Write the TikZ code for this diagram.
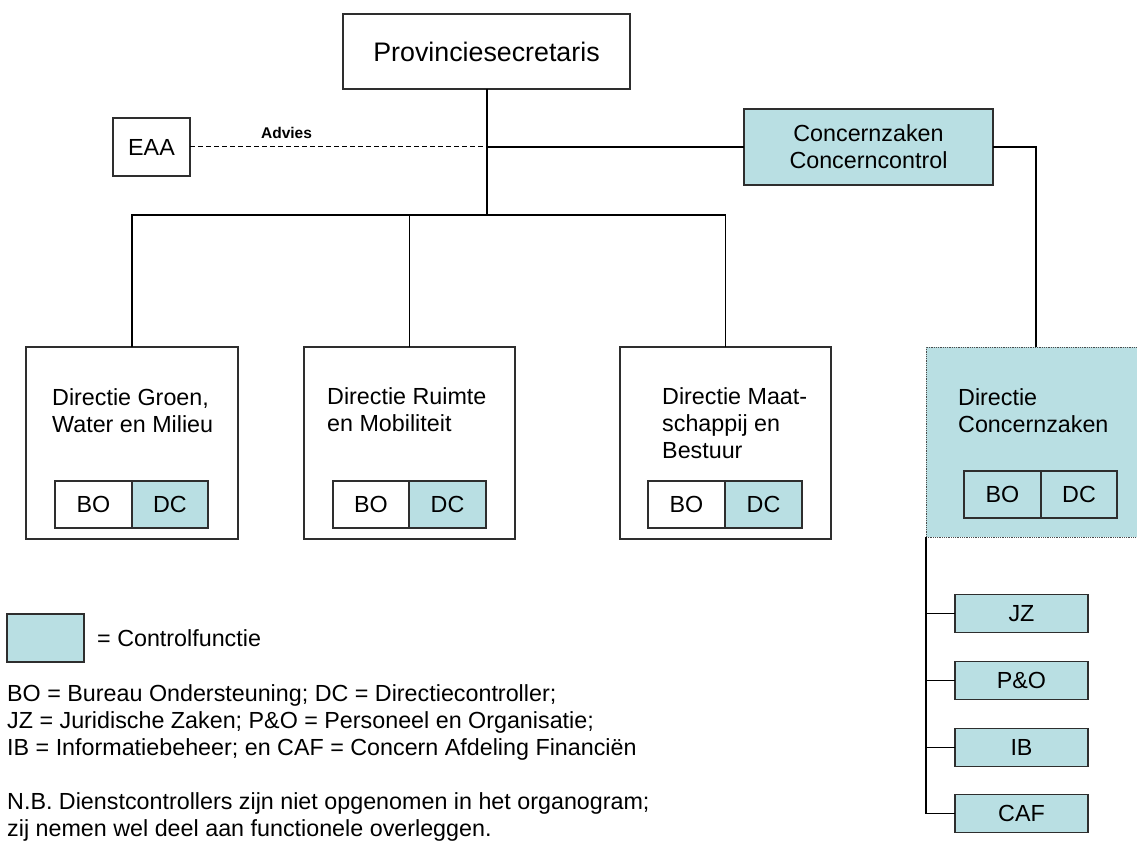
\documentclass[tikz,border=0pt]{standalone}
\usepackage{fontspec}
\setmainfont{Liberation Sans}
\definecolor{ctrl}{HTML}{B9DFE3}
\definecolor{edge}{HTML}{2E2E2E}

\begin{document}
\begin{tikzpicture}[x=1pt,y=-1pt,
  txt/.style={font=\fontsize{23.3}{27}\selectfont},
  box/.style={draw=edge,line width=1.2pt,rectangle,inner sep=0pt,outer sep=0pt,txt,align=center},
  ctl/.style={box,fill=ctrl},
  dotbox/.style={rectangle,fill=ctrl,draw=black!70,line width=1pt,dash pattern=on 0.9pt off 0.9pt,inner sep=0pt,outer sep=0pt},
  conn/.style={line width=1.2pt,black},
  trunk/.style={line width=2pt,black},
  advice/.style={line width=1pt,black,dash pattern=on 4.5pt off 3.5pt},
  body/.style={txt,inner sep=0pt,anchor=north west,align=left},
]
\useasboundingbox (0,0) rectangle (1137,853);
\clip (0,0) rectangle (1137,853);

% top of the organisation
\node[box,minimum width=287pt,minimum height=75pt,font=\fontsize{26.8}{30}\selectfont] (ps) at (486.5,51.5) {Provinciesecretaris};
\node[box,minimum width=77pt,minimum height=58pt] (eaa) at (151.5,147) {EAA};
\node[ctl,minimum width=249pt,minimum height=76pt] (cz) at (868.5,147) {Concernzaken\\Concerncontrol};

% directorates
\node[box,minimum width=212pt,minimum height=192pt] (d1) at (132,443) {};
\node[box,minimum width=211pt,minimum height=192pt] (d2) at (409.5,443) {};
\node[box,minimum width=211pt,minimum height=192pt] (d3) at (725.5,443) {};
\node[dotbox,minimum width=220pt,minimum height=190pt] (dcz) at (1036,442) {};

\node[body] (t1) at (52,388) {Directie Groen,\\Water en Milieu};
\node[body] (t2) at (327,387) {Directie Ruimte\\en Mobiliteit};
\node[body] (t3) at (662,387) {Directie Maat-\\schappij en\\Bestuur};
\node[body] (t4) at (958,388) {Directie\\Concernzaken};

% BO / DC cells
\node[box,minimum width=77pt,minimum height=47pt] (bo1) at (93.5,504.5) {BO};
\node[ctl,minimum width=76pt,minimum height=47pt] (dc1) at (170,504.5) {DC};
\node[box,minimum width=76pt,minimum height=47pt] (bo2) at (371,504.5) {BO};
\node[ctl,minimum width=77pt,minimum height=47pt] (dc2) at (447.5,504.5) {DC};
\node[box,minimum width=77pt,minimum height=47pt] (bo3) at (686.5,504.5) {BO};
\node[ctl,minimum width=77pt,minimum height=47pt] (dc3) at (763.5,504.5) {DC};
\node[ctl,minimum width=77pt,minimum height=47pt] (bo4) at (1002.5,494.5) {BO};
\node[ctl,minimum width=76pt,minimum height=47pt] (dc4) at (1079,494.5) {DC};

% departments of Concernzaken
\node[ctl,minimum width=133pt,minimum height=38pt] (jz) at (1021.5,613.5) {JZ};
\node[ctl,minimum width=133pt,minimum height=38pt] (po) at (1021.5,680.5) {P\&O};
\node[ctl,minimum width=133pt,minimum height=38pt] (ib) at (1021.5,747.5) {IB};
\node[ctl,minimum width=133pt,minimum height=38pt] (caf) at (1021.5,813.5) {CAF};

% connectors
\draw[trunk] (ps.south) -- ++(0,126) coordinate (hub);
\draw[conn] (d1.north) |- (hub) -| (d3.north);
\draw[conn] (d2.north) -- (d2.north |- hub);
\draw[conn] (ps.south |- cz.west) -- (cz.west);
\draw[advice] (eaa.east) -- (ps.south |- eaa.east);
\node[font=\bfseries\fontsize{15.5}{18}\selectfont,inner sep=0pt,anchor=base] (adv) at (286.5,139) {Advies};
\draw[conn] (cz.east) -| (dcz.north);
\draw[conn] (dcz.south west) -- (dcz.south west |- caf.west) -- (caf.west);
\draw[conn] (jz.west) -- (jz.west -| dcz.south west);
\draw[conn] (po.west) -- (po.west -| dcz.south west);
\draw[conn] (ib.west) -- (ib.west -| dcz.south west);

% legend and notes
\node[ctl,minimum width=77pt,minimum height=48pt] (key) at (45.5,638) {};
\node[txt,inner sep=0pt,anchor=west] (keytxt) at (97,638) {= Controlfunctie};
\node[body] (notes) at (7,684) {BO = Bureau Ondersteuning; DC = Directiecontroller;\\
JZ = Juridische Zaken; P\&O = Personeel en Organisatie;\\
IB = Informatiebeheer; en CAF = Concern Afdeling Financiën\\[27pt]
N.B. Dienstcontrollers zijn niet opgenomen in het organogram;\\
zij nemen wel deel aan functionele overleggen.};
\end{tikzpicture}
\end{document}
